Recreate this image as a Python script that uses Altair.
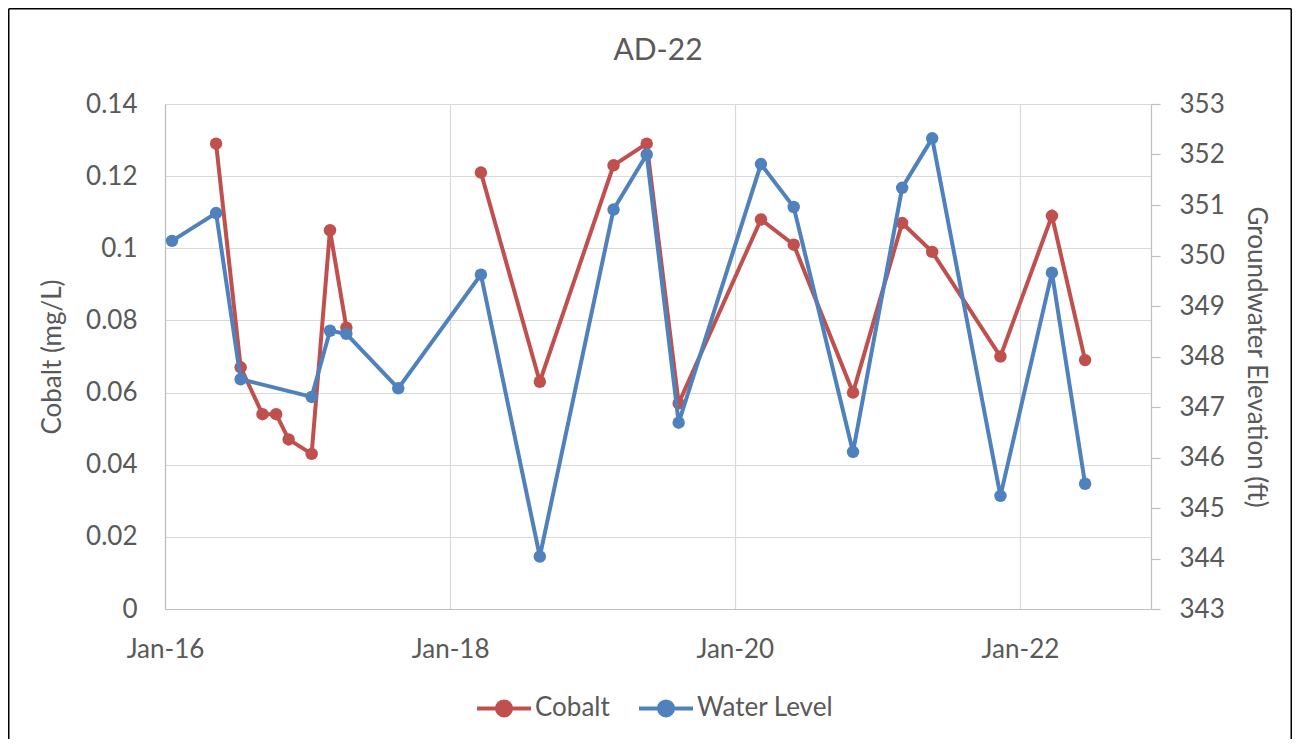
import altair as alt
import pandas as pd

FONT = "Lato"
TXT = "#595959"
RED = "#C0504D"
BLUE = "#4F81BD"
GRID = "#d9d9d9"
AXIS = "#bfbfbf"

series_names = ["Cobalt", "Water Level"]
series_colors = [RED, BLUE]

cobalt_dates = ["2016-05-11", "2016-07-13", "2016-09-07", "2016-10-12", "2016-11-13",
                "2017-01-11", "2017-02-27", "2017-04-10", "2017-08-21", "2018-03-21",
                "2018-08-19", "2019-02-24", "2019-05-20", "2019-08-10", "2020-03-08",
                "2020-05-31", "2020-10-30", "2021-03-05", "2021-05-21", "2021-11-12",
                "2022-03-24", "2022-06-17"]
cobalt_values = [0.129, 0.067, 0.054, 0.054, 0.047,
                 0.043, 0.105, 0.078, None, 0.121,
                 0.063, 0.123, 0.129, 0.057, 0.108,
                 0.101, 0.060, 0.107, 0.099, 0.070,
                 0.109, 0.069]

water_dates = ["2016-01-19", "2016-05-11", "2016-07-13", "2017-01-11", "2017-02-27",
               "2017-04-10", "2017-08-21", "2018-03-21", "2018-08-19", "2019-02-24",
               "2019-05-20", "2019-08-10", "2020-03-08", "2020-05-31", "2020-10-30",
               "2021-03-05", "2021-05-21", "2021-11-12", "2022-03-24", "2022-06-17"]
water_values = [350.29, 350.84, 347.55, 347.20, 348.51,
                348.45, 347.37, 349.62, 344.04, 350.91,
                352.00, 346.69, 351.81, 350.96, 346.11,
                351.34, 352.32, 345.24, 349.66, 345.48]

left_ticks = [0, 0.02, 0.04, 0.06, 0.08, 0.10, 0.12, 0.14]
right_ticks = [343, 344, 345, 346, 347, 348, 349, 350, 351, 352, 353]
x_tick_years = [2016, 2018, 2020, 2022]

cob = pd.DataFrame({"date": cobalt_dates, "value": cobalt_values, "series": series_names[0]})
wat = pd.DataFrame({"date": water_dates, "value": water_values, "series": series_names[1]})

W, H = 986, 505
PAD = {"left": 157, "top": 96, "right": 141, "bottom": 130}
FS = 26

x_enc = alt.X(
    "date:T",
    scale=alt.Scale(type="utc", domain=[alt.DateTime(year=2016, month=1, date=1, utc=True),
                                        alt.DateTime(year=2022, month=12, date=3, utc=True)]),
    axis=alt.Axis(
        values=[alt.DateTime(year=y, month=1, date=1, utc=True) for y in x_tick_years],
        labelExpr="utcFormat(datum.value, '%b-%y')", labelFlush=False,
        title=None, grid=True, gridColor=GRID, gridWidth=1.2,
        domainColor=AXIS, domainWidth=1.2, ticks=False,
        labelFont=FONT, labelFontSize=FS, labelColor=TXT, labelPadding=27,
    ),
)

legend_path = "M-1,0H1M-0.26,0A0.26,0.26,0,1,1,0.26,0A0.26,0.26,0,1,1,-0.26,0Z"
color_enc = alt.Color(
    "series:N",
    scale=alt.Scale(domain=series_names, range=series_colors),
    legend=alt.Legend(
        orient="none", legendX=310, legendY=575, direction="horizontal", title=None,
        symbolType=legend_path, symbolSize=2916, symbolStrokeWidth=4,
        labelFont=FONT, labelFontSize=FS, labelColor=TXT, labelOffset=2,
        columnPadding=21, padding=0,
    ),
)

y_left = alt.Y(
    "value:Q",
    scale=alt.Scale(domain=[0, 0.14], nice=False, zero=False),
    axis=alt.Axis(
        values=left_ticks, format=".2~f", title="Cobalt (mg/L)", orient="left",
        grid=True, gridColor=GRID, gridWidth=1.2, domainColor=AXIS, domainWidth=1.2,
        ticks=False, labelFont=FONT, labelFontSize=FS, labelColor=TXT, labelPadding=28,
        titleFont=FONT, titleFontSize=FS, titleFontWeight="normal", titleColor=TXT,
        titlePadding=20,
    ),
)
y_right = alt.Y(
    "value:Q",
    scale=alt.Scale(domain=[343, 353], nice=False, zero=False),
    axis=alt.Axis(
        values=right_ticks, format="d", title="Groundwater Elevation (ft)", orient="right",
        grid=False, domainColor=AXIS, domainWidth=1.2, ticks=True, tickSize=9,
        tickColor=AXIS, tickWidth=1.2, labelFont=FONT, labelFontSize=FS, labelColor=TXT,
        labelPadding=19, titleFont=FONT, titleFontSize=FS, titleFontWeight="normal",
        titleColor=TXT, titlePadding=18,
    ),
)

frame_df = pd.DataFrame({"k": [0]})
frame_style = dict(stroke="#000000", strokeWidth=1.5)
left_edge = -PAD["left"] + 0.75
right_edge = W + PAD["right"] - 0.75
top_edge = -PAD["top"] + 0.75
bottom_edge = H + PAD["bottom"]
frame_left = alt.Chart(frame_df).mark_rule(**frame_style).encode(
    x=alt.value(left_edge), y=alt.value(top_edge), y2=alt.value(bottom_edge))
frame_right = alt.Chart(frame_df).mark_rule(**frame_style).encode(
    x=alt.value(right_edge), y=alt.value(top_edge), y2=alt.value(bottom_edge))
frame_top = alt.Chart(frame_df).mark_rule(**frame_style).encode(
    y=alt.value(top_edge), x=alt.value(left_edge), x2=alt.value(right_edge))

cob_line = alt.Chart(cob).mark_line(strokeWidth=4, invalid="break-paths-show-domains").encode(
    x=x_enc, y=y_left, color=color_enc)
cob_pts = alt.Chart(cob).mark_circle(size=155, opacity=1).encode(x=x_enc, y=y_left, color=color_enc)
wat_line = alt.Chart(wat).mark_line(strokeWidth=4).encode(x=x_enc, y=y_right, color=color_enc)
wat_pts = alt.Chart(wat).mark_circle(size=155, opacity=1).encode(x=x_enc, y=y_right, color=color_enc)

left = alt.layer(frame_left, frame_right, frame_top, cob_line, cob_pts)
right = alt.layer(wat_line, wat_pts)

chart = alt.layer(left, right).resolve_scale(y="independent").properties(
    width=W, height=H,
    title=alt.TitleParams(text="AD-22", font=FONT, fontSize=30, fontWeight="normal",
                          color=TXT, anchor="middle", offset=0, dy=58),
    padding=PAD,
    autosize="none",
    background="white",
).configure_view(stroke=None)

chart.save("out.html", embed_options={"renderer": "svg", "actions": False})
